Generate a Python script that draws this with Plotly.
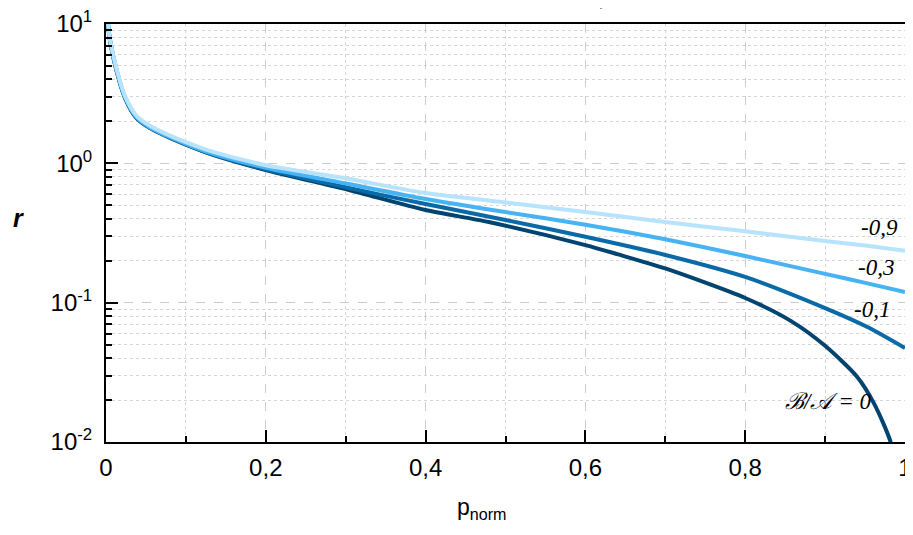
import math
import plotly.graph_objects as go

# ---- data ----
p_norm = [0.0025, 0.005, 0.0133, 0.0237, 0.038, 0.055, 0.076, 0.1, 0.13, 0.2,
          0.304, 0.4, 0.5, 0.6, 0.7, 0.8, 0.9, 0.953, 1.0]
r_m09 = [10.0, 7.75, 4.75, 3.05, 2.2, 1.86, 1.62, 1.42, 1.23, 0.97,
         0.773, 0.612, 0.524, 0.447, 0.379, 0.325, 0.277, 0.256, 0.236]
r_m03 = [10.0, 7.65, 4.65, 2.99, 2.15, 1.81, 1.58, 1.38, 1.19, 0.93,
         0.71, 0.555, 0.447, 0.363, 0.285, 0.216, 0.161, 0.1375, 0.119]
r_m01 = [10.0, 7.6, 4.62, 2.97, 2.13, 1.80, 1.57, 1.37, 1.18, 0.905,
         0.665, 0.51, 0.392, 0.297, 0.22, 0.153, 0.0914, 0.0668, 0.0472]

p_norm_0 = [0.0025, 0.005, 0.0133, 0.0237, 0.038, 0.055, 0.076, 0.1, 0.13, 0.2,
            0.304, 0.4, 0.479, 0.6, 0.641, 0.7, 0.8, 0.857, 0.9, 0.94, 0.961, 0.982, 0.995]
r_0 = [10.0, 7.6, 4.6, 2.95, 2.12, 1.79, 1.56, 1.36, 1.17, 0.895,
       0.643, 0.462, 0.379, 0.259, 0.222, 0.176, 0.108, 0.074, 0.049, 0.0294, 0.019, 0.0100, 0.004]

x_ticks = [0, 0.2, 0.4, 0.6, 0.8, 1.0]
x_tick_text = ["0", "0,2", "0,4", "0,6", "0,8", "1"]
y_ticks = [0.01, 0.1, 1, 10]
y_tick_text = ["10<sup>-2</sup>", "10<sup>-1</sup>", "10<sup>0</sup>", "10<sup>1</sup>"]
x_minor = [0.1, 0.3, 0.5, 0.7, 0.9]
y_minor = [m * 10 ** e for e in (-2, -1, 0) for m in range(2, 10)]

series_labels = ["ℬ/𝒜 = 0", "-0,1", "-0,3", "-0,9"]
colors = ["#00446f", "#0a6aa8", "#47b3f3", "#b8e3fc"]

fig = go.Figure()
# drawn dark first so the lightest curve sits on top, as in the reference
for xs, ys, c, name in [(p_norm_0, r_0, colors[0], series_labels[0]),
                        (p_norm, r_m01, colors[1], series_labels[1]),
                        (p_norm, r_m03, colors[2], series_labels[2]),
                        (p_norm, r_m09, colors[3], series_labels[3])]:
    fig.add_trace(go.Scatter(x=xs, y=ys, mode="lines", name=name,
                             line=dict(color=c, width=4, shape="spline", smoothing=0.7),
                             showlegend=False, hoverinfo="skip"))

label_font = dict(family="Liberation Serif", size=23, color="black", style="italic")
label_pos = [(0.968, 10 ** -0.464), (0.964, 10 ** -0.744), (0.959, 10 ** -1.046), (0.903, 10 ** -1.706)]
for (lx, ly), t in zip(label_pos, [series_labels[3], series_labels[2], series_labels[1], series_labels[0]]):
    fig.add_annotation(x=lx, y=math.log10(ly), text=t, showarrow=False,
                       font=label_font, xanchor="center", yanchor="middle")

# cut-off text fragment at the very top
fig.add_annotation(x=0.62, y=1.0, xref="paper", yref="paper", text=",", showarrow=False,
                   xanchor="center", yanchor="bottom", yshift=12,
                   font=dict(family="Liberation Sans", size=14, color="black"))

# axis titles
fig.add_annotation(x=0.4694, y=0, xref="paper", yref="paper", text="p<sub>norm</sub>",
                   showarrow=False, xanchor="center", yanchor="middle", yshift=-66,
                   font=dict(family="Liberation Sans", size=23, color="black"))
fig.add_annotation(x=-0.11, y=0.536, xref="paper", yref="paper", text="<b><i>r</i></b>",
                   showarrow=False, xanchor="center", yanchor="middle",
                   font=dict(family="Liberation Sans", size=25, color="black"))

grid_major = "#cccccc"
grid_minor = "#d6d6d6"

fig.update_xaxes(
    range=[0, 1], tickvals=x_ticks, ticktext=x_tick_text, automargin=False,
    ticklabeloverflow="allow",
    ticks="inside", ticklen=12, tickwidth=2, tickcolor="black",
    showline=True, linecolor="black", linewidth=2, mirror=True,
    showgrid=True, gridcolor=grid_major, griddash="dash", gridwidth=1,
    zeroline=False, ticklabelstandoff=3,
    tickfont=dict(family="Liberation Sans", size=24, color="black"),
    minor=dict(tickvals=x_minor, ticks="inside", ticklen=6, tickwidth=2, tickcolor="black",
               showgrid=True, gridcolor=grid_minor, griddash="dot", gridwidth=1),
)
fig.update_yaxes(
    type="log", range=[-2, 1], tickvals=y_ticks, ticktext=y_tick_text, automargin=False,
    ticklabeloverflow="allow",
    ticks="inside", ticklen=12, tickwidth=2, tickcolor="black",
    showline=True, linecolor="black", linewidth=2, mirror=True,
    showgrid=True, gridcolor=grid_major, griddash="dash", gridwidth=1,
    zeroline=False, ticklabelstandoff=7,
    tickfont=dict(family="Liberation Sans", size=24, color="black"),
    minor=dict(tickvals=y_minor, ticks="inside", ticklen=6, tickwidth=2, tickcolor="black",
               showgrid=True, gridcolor=grid_minor, griddash="dot", gridwidth=1),
)

# the page body adds an 8px margin; size the figure so it fits the window without scrolling
fig.update_layout(
    width=897, height=519,
    margin=dict(l=98, r=0, t=16, b=85, autoexpand=False),
    paper_bgcolor="white", plot_bgcolor="white",
)

fig.write_html("out.html")
